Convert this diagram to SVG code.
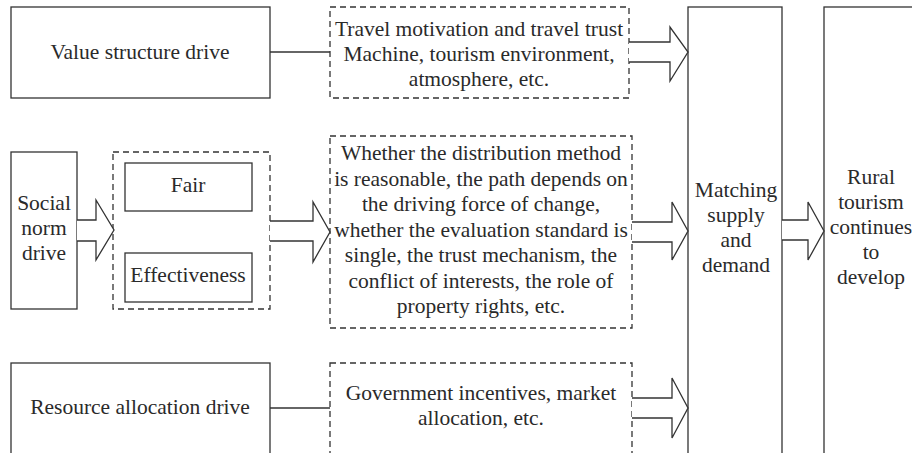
<svg xmlns="http://www.w3.org/2000/svg" width="912" height="453" viewBox="0 0 912 453">
<style>
.box{fill:#fff;stroke:#333;stroke-width:1.3}
.dash{fill:#fff;stroke:#333;stroke-width:1.3;stroke-dasharray:6,4}
.arr{fill:#fff;stroke:#333;stroke-width:1.3;stroke-linejoin:miter}
.ln{stroke:#333;stroke-width:1.3;fill:none}
.t{font-family:'Liberation Serif','Times New Roman',serif;font-size:21.5px;fill:#2a2a2a;text-anchor:middle}
</style>
<rect width="912" height="453" fill="#fff"/>
<g id="value">
<rect class="box" x="11" y="7" width="259" height="91"/>
<text class="t" x="140" y="59">Value structure drive</text>
</g>
<g id="travel">
<rect class="dash" x="330" y="7" width="299" height="91"/>
<text class="t" x="479" y="36">Travel motivation and travel trust</text>
<text class="t" x="479" y="61">Machine, tourism environment,</text>
<text class="t" x="479" y="86">atmosphere, etc.</text>
</g>
<g id="social">
<rect class="box" x="11" y="152" width="66" height="157"/>
<text class="t" x="44" y="210">Social</text>
<text class="t" x="44" y="235">norm</text>
<text class="t" x="44" y="260">drive</text>
</g>
<g id="fair-eff">
<rect class="dash" x="113" y="152" width="157" height="157"/>
<g id="fair">
<rect class="box" x="125" y="163" width="127" height="48"/>
<text class="t" x="188" y="192">Fair</text>
</g>
<g id="effectiveness">
<rect class="box" x="125" y="253" width="127" height="49"/>
<text class="t" x="188" y="282">Effectiveness</text>
</g>
</g>
<g id="distribution">
<rect class="dash" x="330" y="136" width="302" height="192"/>
<text class="t" x="481" y="160">Whether the distribution method</text>
<text class="t" x="481" y="185.5">is reasonable, the path depends on</text>
<text class="t" x="481" y="211">the driving force of change,</text>
<text class="t" x="481" y="236.5">whether the evaluation standard is</text>
<text class="t" x="481" y="262">single, the trust mechanism, the</text>
<text class="t" x="481" y="287.5">conflict of interests, the role of</text>
<text class="t" x="481" y="313">property rights, etc.</text>
</g>
<g id="resource">
<rect class="box" x="11" y="363" width="259" height="100"/>
<text class="t" x="140" y="414">Resource allocation drive</text>
</g>
<g id="government">
<rect class="dash" x="330" y="363" width="302" height="100"/>
<text class="t" x="481" y="400">Government incentives, market</text>
<text class="t" x="481" y="425">allocation, etc.</text>
</g>
<g id="matching">
<rect class="box" x="688" y="7" width="94" height="460"/>
<text class="t" x="736" y="197">Matching</text>
<text class="t" x="736" y="222">supply</text>
<text class="t" x="736" y="247">and</text>
<text class="t" x="736" y="272">demand</text>
</g>
<g id="rural">
<rect class="box" x="824" y="7" width="100" height="460"/>
<text class="t" x="871" y="184">Rural</text>
<text class="t" x="871" y="209">tourism</text>
<text class="t" x="871" y="234">continues</text>
<text class="t" x="871" y="259">to</text>
<text class="t" x="871" y="284">develop</text>
</g>
<g id="connectors">
<line class="ln" x1="270" y1="52" x2="330" y2="52"/>
<line class="ln" x1="270" y1="408" x2="330" y2="408"/>
<path class="arr" d="M629,42 H670 V27 L688,52 L670,81 V62 H629"/>
<path class="arr" d="M77,220 H96 V200 L114,230 L96,260 V241 H77"/>
<path class="arr" d="M270,221 H313 V202 L330,232 L313,262 V241 H270"/>
<path class="arr" d="M632,222 H672 V202 L688,231 L672,260 V242 H632"/>
<path class="arr" d="M782,220 H808 V202 L824,231 L808,260 V240 H782"/>
<path class="arr" d="M632,398 H672 V378 L688,408 L672,438 V418 H632"/>
</g>
</svg>
